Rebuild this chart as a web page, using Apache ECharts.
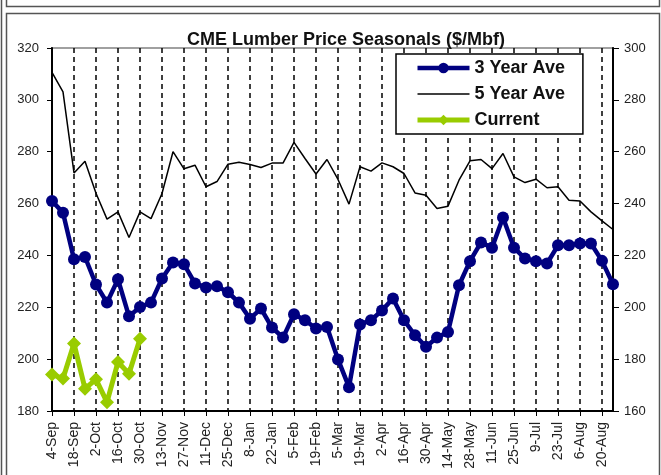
<!DOCTYPE html>
<html>
<head>
<meta charset="utf-8">
<script src="https://cdn.jsdelivr.net/npm/echarts@6/dist/echarts.min.js"></script>
<style>
  html, body { margin: 0; padding: 0; background: #fff; }
  #main { width: 661px; height: 475px; }
</style>
</head>
<body>
<div id="main"></div>
<script>
// weekly categories, Sep -> Aug
var weeks = ['4-Sep', '11-Sep', '18-Sep', '25-Sep', '2-Oct', '9-Oct', '16-Oct', '23-Oct', '30-Oct',
    '6-Nov', '13-Nov', '20-Nov', '27-Nov', '4-Dec', '11-Dec', '18-Dec', '25-Dec',
    '1-Jan', '8-Jan', '15-Jan', '22-Jan', '29-Jan', '5-Feb', '12-Feb', '19-Feb', '26-Feb',
    '5-Mar', '12-Mar', '19-Mar', '26-Mar', '2-Apr', '9-Apr', '16-Apr', '23-Apr', '30-Apr',
    '7-May', '14-May', '21-May', '28-May', '4-Jun', '11-Jun', '18-Jun', '25-Jun',
    '2-Jul', '9-Jul', '16-Jul', '23-Jul', '30-Jul', '6-Aug', '13-Aug', '20-Aug', '27-Aug'];

// left axis
var threeYear = [261, 256.5, 238.5, 239.4, 228.8, 221.8, 230.8, 216.5, 220.1, 221.8,
    231.1, 237.3, 236.6, 229.2, 227.6, 228.1, 225.8, 221.8, 215.6, 219.5,
    212.2, 208.3, 217.3, 215, 211.8, 212.4, 199.9, 189.2, 213.4, 215,
    218.8, 223.4, 215, 209.2, 204.8, 208.3, 210.5, 228.5, 237.8, 245,
    243, 254.6, 243, 238.8, 237.8, 236.9, 243.9, 243.9, 244.6, 244.6,
    237.9, 228.9];

// right axis
var fiveYear = [290.6, 283.1, 251.8, 256.3, 244, 234, 236.8, 226.9, 236.8, 234.2,
    243.9, 260, 253.4, 254.8, 246.5, 248.5, 255.2, 255.9, 255.1, 253.9,
    255.6, 255.6, 263.6, 257.4, 251.4, 257, 249.3, 239.8, 254.2, 252.5,
    255.7, 254.2, 251.6, 244.1, 243.2, 238.1, 239, 249, 256.5, 257,
    253.5, 259.3, 250.3, 248.1, 249.4, 246.1, 246.5, 241.3, 241, 236.8,
    233.3, 230];

// left axis
var current = [194.1, 192.5, 206, 188.6, 192.2, 183.4, 198.9, 194.4, 207.9];

var myChart = echarts.init(document.getElementById('main'));

var frameColor = '#555';

option = {
    animation: false,
    backgroundColor: '#fff',
    title: {
        text: 'CME Lumber Price Seasonals ($/Mbf)',
        left: 341,
        textAlign: 'center',
        top: 26,
        textStyle: {
            fontFamily: 'Liberation Sans, Arial, sans-serif',
            fontSize: 18,
            fontWeight: 'bold',
            color: '#111'
        }
    },
    legend: {
        orient: 'vertical',
        left: 396,
        top: 54,
        padding: [5, 18, 5, 19],
        itemWidth: 52,
        itemHeight: 13,
        itemGap: 8,
        backgroundColor: '#fff',
        borderColor: '#000',
        borderWidth: 1.5,
        borderRadius: 0,
        lineStyle: { width: 'inherit' },
        textStyle: {
            fontFamily: 'Liberation Sans, Arial, sans-serif',
            fontSize: 18,
            fontWeight: 'bold',
            color: '#111',
            lineHeight: 18
        },
        data: [
            { name: '3 Year Ave' },
            { name: '5 Year Ave', itemStyle: { opacity: 0 } },
            { name: 'Current' }
        ]
    },
    grid: {
        left: 52,
        right: 48,
        top: 48,
        bottom: 64,
        show: true,
        borderColor: '#a0a0a0',
        borderWidth: 2
    },
    xAxis: {
        type: 'category',
        data: weeks,
        boundaryGap: false,
        axisLine: { lineStyle: { color: '#000', width: 2 } },
        axisTick: { interval: 1, length: 5, lineStyle: { color: '#000', width: 1 } },
        axisLabel: {
            interval: 1,
            rotate: 90,
            margin: 11,
            fontFamily: 'Liberation Sans, Arial, sans-serif',
            fontSize: 14,
            color: '#222'
        },
        splitLine: {
            show: true,
            interval: 1,
            lineStyle: { color: '#000', width: 1.5, type: [5, 4] }
        }
    },
    yAxis: [{
        type: 'value',
        position: 'left',
        min: 180,
        max: 320,
        interval: 20,
        axisLine: { show: true, lineStyle: { color: '#000', width: 2 } },
        axisTick: { show: true, length: 5, lineStyle: { color: '#000' } },
        axisLabel: {
            margin: 13,
            fontFamily: 'Liberation Sans, Arial, sans-serif',
            fontSize: 13,
            color: '#222'
        },
        splitLine: { show: false }
    }, {
        type: 'value',
        position: 'right',
        min: 160,
        max: 300,
        interval: 20,
        axisLine: { show: true, lineStyle: { color: '#000', width: 2 } },
        axisTick: { show: true, length: 6, lineStyle: { color: '#000' } },
        axisLabel: {
            margin: 11,
            fontFamily: 'Liberation Sans, Arial, sans-serif',
            fontSize: 13,
            color: '#222'
        },
        splitLine: { show: false }
    }],
    series: [{
        name: '3 Year Ave',
        type: 'line',
        yAxisIndex: 0,
        data: threeYear,
        symbol: 'circle',
        symbolSize: 12,
        showAllSymbol: true,
        color: '#000080',
        lineStyle: { color: '#000080', width: 4.5 },
        itemStyle: { color: '#000080' },
        z: 3
    }, {
        name: '5 Year Ave',
        type: 'line',
        yAxisIndex: 1,
        data: fiveYear,
        symbol: 'none',
        color: '#000',
        lineStyle: { color: '#000', width: 1.5 },
        z: 2
    }, {
        name: 'Current',
        type: 'line',
        yAxisIndex: 0,
        data: current,
        symbol: 'diamond',
        symbolSize: 14,
        showAllSymbol: true,
        color: '#99CC00',
        lineStyle: { color: '#99CC00', width: 5 },
        itemStyle: { color: '#99CC00' },
        z: 4
    }],
    graphic: [
        { type: 'line', shape: { x1: 1.5, y1: 0, x2: 1.5, y2: 475 }, style: { stroke: frameColor, lineWidth: 1.5 } },
        { type: 'polyline', shape: { points: [[6.5, 0], [6.5, 6.5], [659.5, 6.5], [659.5, 0]] }, style: { stroke: frameColor, lineWidth: 1.5, fill: null } },
        { type: 'rect', shape: { x: 6.5, y: 13.5, width: 653, height: 470 }, style: { stroke: frameColor, lineWidth: 1.5, fill: null } }
    ]
};
myChart.setOption(option);
</script>
</body>
</html>
